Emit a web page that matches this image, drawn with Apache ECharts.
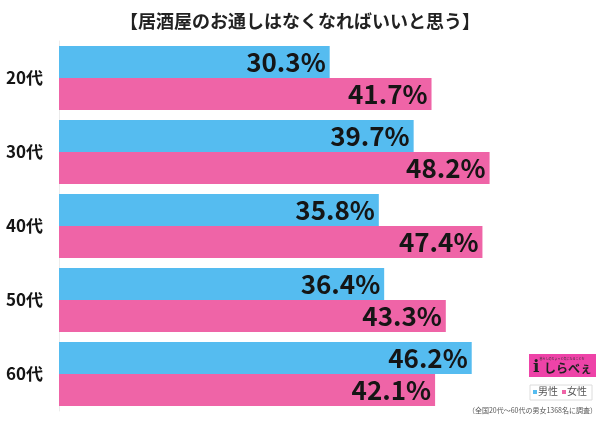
<!DOCTYPE html>
<html><head><meta charset="utf-8">
<script src="https://cdn.jsdelivr.net/npm/echarts@6/dist/echarts.min.js"></script>
<style>html,body{margin:0;padding:0;background:#fff}#c{width:600px;height:424px}</style>
</head><body><div id="c"></div>
<script>
var title = '【居酒屋のお通しはなくなればいいと思う】';
var categories = ['20代','30代','40代','50代','60代'];
var male = [30.3, 39.7, 35.8, 36.4, 46.2];
var female = [41.7, 48.2, 47.4, 43.3, 42.1];
var seriesNames = ['男性','女性'];
var note = '（全国20代～60代の男女1368名に調査）';
var FONT = '"Noto Sans CJK JP", sans-serif';
var chart = echarts.init(document.getElementById('c'), null, {renderer:'canvas'});
var lbl = {show:true, position:'insideRight', distance:4, fontSize:26, fontWeight:'bold', color:'#151515', fontFamily:FONT, formatter:function(p){return p.value.toFixed(1)+'%';}};
chart.setOption({
  animation:false,
  backgroundColor:'#fff',
  title:{text:title, left:'center', top:7, textStyle:{fontSize:18, fontWeight:'bold', color:'#222', fontFamily:FONT}},
  grid:{left:59, right:5, top:41, bottom:13},
  xAxis:{type:'value', min:0, max:60, show:false},
  yAxis:{type:'category', data:categories, inverse:true,
    axisLine:{show:true, lineStyle:{color:'#ececec', width:1}}, axisTick:{show:false},
    axisLabel:{fontSize:17, fontWeight:'bold', color:'#151515', margin:16, fontFamily:FONT}},
  series:[
    {name:seriesNames[0], type:'bar', data:male, barWidth:32, barGap:'0%', itemStyle:{color:'#55bcf0'}, label:lbl},
    {name:seriesNames[1], type:'bar', data:female, barWidth:32, barGap:'0%', itemStyle:{color:'#ef64a7'}, label:lbl}
  ],
  graphic:[
    {type:'rect', shape:{x:529,y:354,width:67,height:23}, style:{fill:'#ee43a8'}},
    {type:'text', style:{x:562, y:357, text:'暮らしのちょっと気になることを', fontSize:3, fill:'#333', textAlign:'center', fontFamily:FONT}},
    {type:'text', style:{x:533, y:359, text:'i', fontSize:17, fontWeight:'bold', fill:'#222', fontFamily:'"DejaVu Serif", serif'}},
    {type:'text', style:{x:544, y:362, text:'しらべぇ', fontSize:12, fontWeight:'bold', fill:'#222', fontFamily:FONT}},
    {type:'rect', shape:{x:530,y:385,width:62,height:15}, style:{fill:'#fff', stroke:'#dcdcdc', lineWidth:1}},
    {type:'rect', shape:{x:533,y:390,width:4,height:4}, style:{fill:'#55bcf0'}},
    {type:'text', style:{x:538, y:386, text:seriesNames[0], fontSize:10, fill:'#555', fontFamily:FONT}},
    {type:'rect', shape:{x:562,y:390,width:4,height:4}, style:{fill:'#ef64a7'}},
    {type:'text', style:{x:567, y:386, text:seriesNames[1], fontSize:10, fill:'#555', fontFamily:FONT}},
    {type:'text', style:{x:597, y:407, text:note, fontSize:7, fill:'#555', textAlign:'right', fontFamily:FONT}}
  ]
});
</script></body></html>
